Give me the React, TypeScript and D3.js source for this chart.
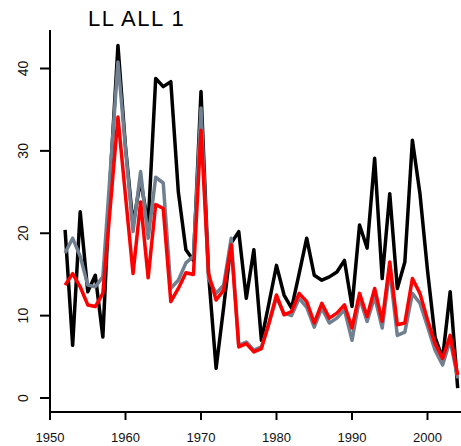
import React, { useEffect, useRef } from 'react';
import * as d3 from 'd3';

const years = d3.range(1952, 2005);

const blackSeries = [
  20.4, 6.4, 22.6, 12.9, 14.9, 7.4, 27, 42.8, 30.5, 21,
  26.5, 21, 38.8, 37.8, 38.4, 25, 18, 16.7, 37.2, 15.1,
  3.6, 11, 18.8, 20.2, 12.1, 18, 7.0, 11.5, 16.1, 12.5,
  10.9, 15.1, 19.4, 14.9, 14.3, 14.7, 15.3, 16.7, 11.1, 21,
  18.2, 29.1, 14.5, 24.8, 13.3, 16.5, 31.3, 24.8, 15.5, 7.4,
  4.8, 12.9, 1.2
];

const graySeries = [
  17.6, 19.4, 17.2, 13.7, 13.5, 14.7, 27.7, 40.8, 30.3, 20.2,
  27.5, 19.4, 26.8, 26.1, 13.3, 14.3, 16.4, 17.2, 35.2, 14.5,
  12.7, 13.7, 19.4, 6.4, 6.8, 5.8, 6.2, 9.0, 12.2, 10.3,
  10.0, 12.1, 11.0, 8.6, 10.9, 9.1, 9.7, 10.7, 7.0, 12.1,
  9.3, 12.3, 8.5, 15.5, 7.6, 8.0, 12.7, 11.5, 8.7, 5.8,
  4.0, 7.0, 2.4
];

const redSeries = [
  13.7, 15.1, 13.5, 11.3, 11.1, 12.7, 23.4, 34.1, 24.5, 15.1,
  23.8, 14.6, 23.5, 23, 11.7, 13.3, 15.2, 15, 32.5, 15.1,
  11.9, 13.1, 18.6, 6.2, 6.6, 5.6, 6.0, 9.1, 12.5, 10.1,
  10.5, 12.7, 11.7, 9.1, 11.5, 9.7, 10.3, 11.3, 8.5, 12.7,
  9.9, 13.3, 9.3, 16.5, 8.9, 9.1, 14.5, 12.7, 9.5, 6.6,
  4.8, 7.6, 2.8
];

const xTicks = [1950, 1960, 1970, 1980, 1990, 2000];
const yTicks = [0, 10, 20, 30, 40];

const width = 461;
const height = 446;

export default function App() {
  const ref = useRef<SVGSVGElement>(null);

  useEffect(() => {
    const svg = d3.select(ref.current);
    svg.selectAll('*').remove();

    const x = d3.scaleLinear().domain([1950, 2000]).range([50, 427.5]);
    const y = d3.scaleLinear().domain([0, 40]).range([398, 68.5]);
    const font = '"Liberation Sans", Arial, sans-serif';

    // L-shaped frame
    svg.append('line')
      .attr('x1', 50).attr('x2', 50).attr('y1', 30).attr('y2', 412)
      .attr('stroke', '#000').attr('stroke-width', 2);
    svg.append('line')
      .attr('x1', 49).attr('x2', width).attr('y1', 412).attr('y2', 412)
      .attr('stroke', '#000').attr('stroke-width', 2);

    // y ticks + rotated labels
    const yt = svg.selectAll('g.yt').data(yTicks).enter().append('g')
      .attr('transform', d => `translate(0,${y(d)})`);
    yt.append('line').attr('x1', 40).attr('x2', 50)
      .attr('stroke', '#000').attr('stroke-width', 2);
    yt.append('text')
      .attr('transform', 'translate(28,0) rotate(-90)')
      .attr('text-anchor', 'middle')
      .attr('font-family', font).attr('font-size', 14)
      .attr('fill', '#111')
      .text(d => d);

    // x ticks + labels
    const xt = svg.selectAll('g.xt').data(xTicks).enter().append('g')
      .attr('transform', d => `translate(${x(d)},0)`);
    xt.append('line').attr('y1', 412).attr('y2', 420)
      .attr('stroke', '#000').attr('stroke-width', 2);
    xt.append('text')
      .attr('y', 442)
      .attr('text-anchor', 'middle')
      .attr('font-family', font).attr('font-size', 13)
      .attr('fill', '#111')
      .text(d => d);

    const line = d3.line<number>()
      .x((d, i) => x(years[i]))
      .y(d => y(d));

    const series: [number[], string][] = [
      [blackSeries, '#000000'],
      [graySeries, '#708090'],
      [redSeries, '#ff0000'],
    ];
    series.forEach(([vals, color]) => {
      svg.append('path')
        .datum(vals)
        .attr('d', line)
        .attr('fill', 'none')
        .attr('stroke', color)
        .attr('stroke-width', 3.5)
        .attr('stroke-linejoin', 'round');
    });

    svg.append('text')
      .attr('x', 88).attr('y', 26)
      .attr('font-family', font).attr('font-size', 22)
      .attr('letter-spacing', 1.5)
      .attr('fill', '#000')
      .text('LL ALL 1');
  }, []);

  return (
    <div>
      <style>{`body{margin:0}`}</style>
      <svg ref={ref} width={width} height={height} style={{ display: 'block', background: '#fff' }} />
    </div>
  );
}
